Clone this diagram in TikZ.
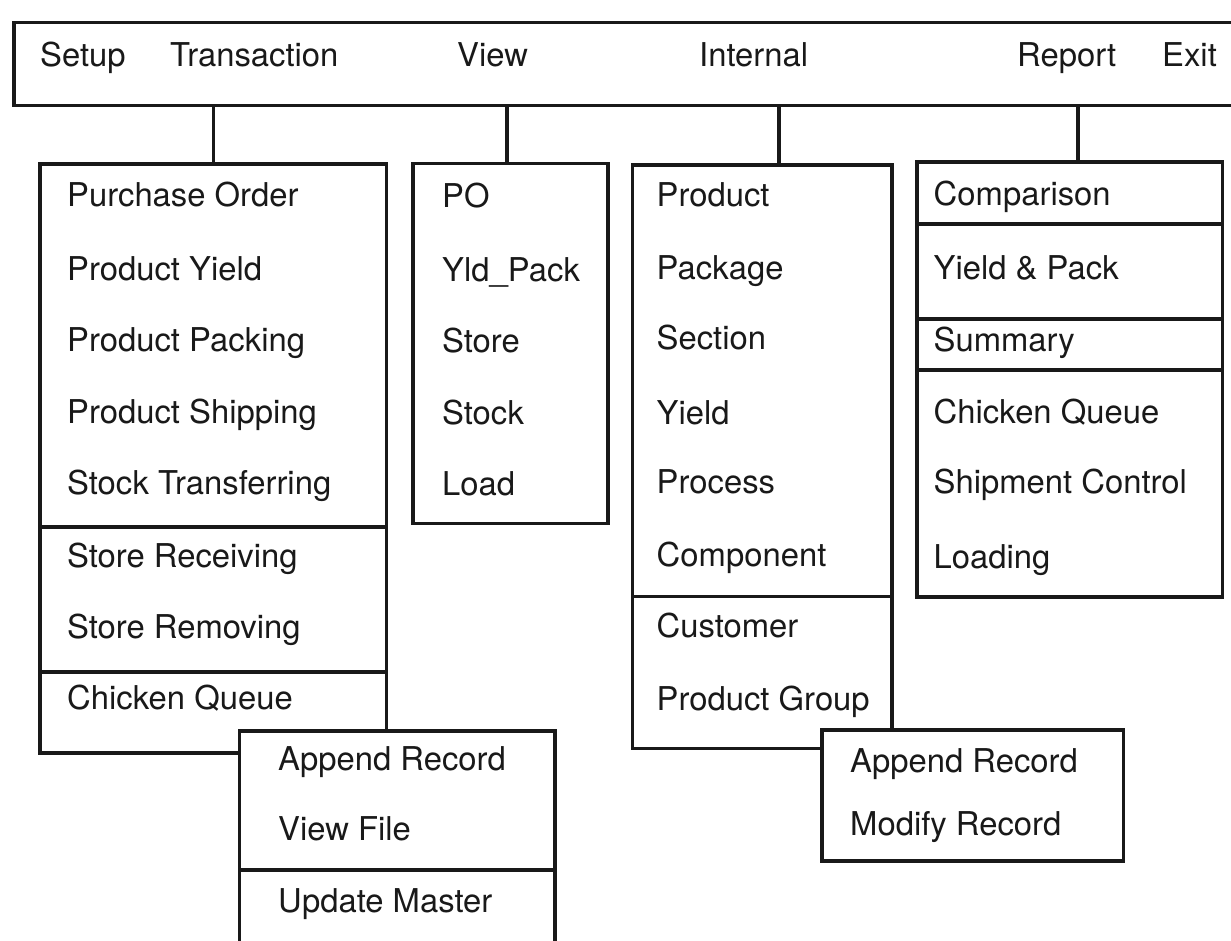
\documentclass[tikz,border=0pt]{standalone}
\usepackage{fontspec}
\setmainfont{TeX Gyre Heros}
\definecolor{ink}{gray}{0.1}
\tikzset{
  frame/.style={draw=ink, line width=3.2pt, fill=white, inner sep=0pt, outer sep=0pt, rectangle},
  rule/.style={draw=ink, line width=3.2pt},
  item/.style={anchor=base west, inner sep=0pt, text=ink, font=\fontsize{32.8}{39}\selectfont},
}
\begin{document}
\begin{tikzpicture}[x=1pt, y=-1pt]
\clip (0,0) rectangle (1231,941);
\fill[white] (0,0) rectangle (1231,941);

% main menu bar
\node[frame, minimum width=1231, minimum height=83] (menu) at (629.5,64) {};
\node[item] (mSetup) at (40,66.7) {Setup};
\node[item] (mTrans) at (170,66.7) {Transaction};
\node[item] (mView) at (457,66.7) {View};
\node[item] (mInt) at (699,66.7) {Internal};
\node[item] (mRep) at (1017,66.7) {Report};
\node[item] (mExit) at (1162,66.7) {Exit};

% drop-down panels
\node[frame, minimum width=346.5, minimum height=589] (trans) at (213.25,458.5) {};
\node[frame, minimum width=195, minimum height=360] (view) at (510.5,343.5) {};
\node[frame, minimum width=259.5, minimum height=583.5] (intl) at (762.25,456.75) {};
\node[frame, minimum width=305.5, minimum height=435] (report) at (1069.75,379.5) {};

% attachment points of the connectors on the panel tops
\coordinate (tc) at (trans.north);
\coordinate (vc) at ([xshift=-3.5pt]view.north);
\coordinate (ic) at ([xshift=16.75pt]intl.north);
\coordinate (rc) at ([xshift=8.25pt]report.north);

% connectors from the bar to the panels
\draw[rule] (menu.south -| tc) -- (tc);
\draw[rule] (menu.south -| vc) -- (vc);
\draw[rule] (menu.south -| ic) -- (ic);
\draw[rule] (menu.south -| rc) -- (rc);

% Transaction panel
\draw[rule] ([yshift=-363pt]trans.north west) -- ([yshift=-363pt]trans.north east);
\draw[rule] ([yshift=-508pt]trans.north west) -- ([yshift=-508pt]trans.north east);
\node[item] (t1) at (67,207) {Purchase Order};
\node[item] (t2) at (67,280.5) {Product Yield};
\node[item] (t3) at (67,351.5) {Product Packing};
\node[item] (t4) at (67,423) {Product Shipping};
\node[item] (t5) at (67,494) {Stock Transferring};
\node[item] (t6) at (67,567) {Store Receiving};
\node[item] (t7) at (67,638) {Store Removing};
\node[item] (t8) at (67,709) {Chicken Queue};

% View panel
\node[item] (v1) at (442,207.5) {PO};
\node[item] (v2) at (442,282) {Yld\_Pack};
\node[item] (v3) at (442,352) {Store};
\node[item] (v4) at (442,424) {Stock};
\node[item] (v5) at (442,495) {Load};

% Internal panel
\draw[rule] ([yshift=-431.7pt]intl.north west) -- ([yshift=-431.7pt]intl.north east);
\node[item] (i1) at (656.5,206.5) {Product};
\node[item] (i2) at (656.5,279.5) {Package};
\node[item] (i3) at (656.5,349.5) {Section};
\node[item] (i4) at (656.5,424.5) {Yield};
\node[item] (i5) at (656.5,493.5) {Process};
\node[item] (i6) at (656.5,566.5) {Component};
\node[item] (i7) at (656.5,637.5) {Customer};
\node[item] (i8) at (656.5,710.5) {Product Group};

% Report panel
\draw[rule] ([yshift=-62pt]report.north west) -- ([yshift=-62pt]report.north east);
\draw[rule] ([yshift=-157pt]report.north west) -- ([yshift=-157pt]report.north east);
\draw[rule] ([yshift=-208pt]report.north west) -- ([yshift=-208pt]report.north east);
\node[item] (r1) at (933.5,206) {Comparison};
\node[item] (r2) at (933.5,279.5) {Yield \& Pack};
\node[item] (r3) at (933.5,351.5) {Summary};
\node[item] (r4) at (933.5,423) {Chicken Queue};
\node[item] (r5) at (933.5,493) {Shipment Control};
\node[item] (r6) at (933.5,568) {Loading};

% record sub-menus, laid over the panel corners
\node[frame, minimum width=315.5, minimum height=249] (pop1) at (397.25,855.5) {};
\draw[rule] ([yshift=-139pt]pop1.north west) -- ([yshift=-139pt]pop1.north east);
\node[item] (p1) at (278,770) {Append Record};
\node[item] (p2) at (278,840.5) {View File};
\node[item] (p3) at (278,912) {Update Master};

\node[frame, minimum width=301.5, minimum height=131] (pop2) at (972.75,795.5) {};
\node[item] (q1) at (850,772) {Append Record};
\node[item] (q2) at (850,835) {Modify Record};
\end{tikzpicture}
\end{document}
